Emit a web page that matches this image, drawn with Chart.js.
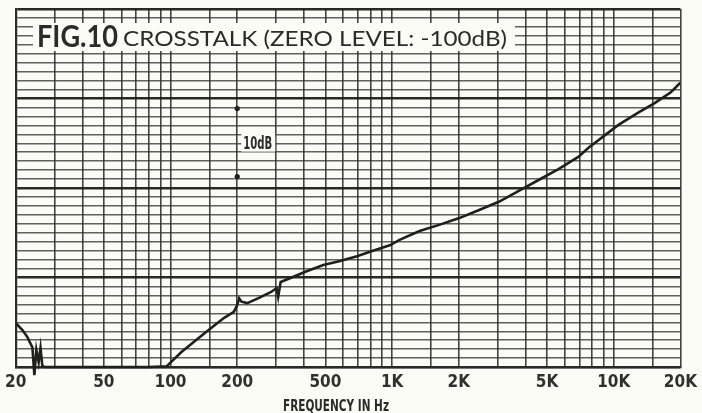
<!DOCTYPE html>
<html>
<head>
<meta charset="utf-8">
<script src="https://cdn.jsdelivr.net/npm/chart.js@4.4.1/dist/chart.umd.min.js"></script>
<style>
  html, body { margin: 0; padding: 0; background: #fcfcf7; }
  #wrap { width: 702px; height: 413px; position: relative; }
</style>
</head>
<body>
<div id="wrap"><canvas id="c" width="702" height="413"></canvas></div>
<script>
// Crosstalk trace: frequency (Hz) and level (dB)
const FREQ_HZ = [
  20, 21.5, 22.6, 23.3, 23.8, 24.3, 24.8, 25.4, 25.9, 26.4, 27.2,
  40, 60, 80, 96, 112, 131, 148, 174, 193, 200, 204, 209, 222, 248,
  283, 301, 306, 314, 348, 406, 489, 583, 694, 819, 976, 1080, 1330,
  1630, 2010, 2470, 3030, 3730, 4580, 5630, 6920, 7670, 9140, 10500,
  12900, 15300, 18100, 20000
];
const CROSSTALK_DB = [
  -93.5, -94.6, -95.6, -96.5, -97.1, -101.2, -97.5, -99.3, -97.2, -99.9, -100,
  -100, -100, -100, -99.9, -97.8, -96.0, -94.6, -92.8, -91.9, -90.9, -89.9, -90.4, -90.6, -89.9,
  -89.0, -88.4, -89.7, -87.5, -86.9, -86.0, -85.0, -84.4, -83.7, -82.9, -82.1, -81.3, -80.0,
  -79.1, -78.1, -76.9, -75.7, -74.1, -72.5, -70.9, -69.1, -67.8, -65.9, -64.4,
  -62.6, -61.2, -59.6, -58.2
];

// 10 dB reference marker
const MARKER_FREQ = 200;
const MARKER_DB = [-72, -62];

// Frequency axis: grid lines and labelled frequencies
const GRID_FREQS = [20, 30, 40, 50, 60, 70, 80, 90, 100, 150, 200, 300, 400, 500, 600, 700, 800, 900,
  1000, 1500, 2000, 3000, 4000, 5000, 6000, 7000, 8000, 9000, 10000, 15000, 20000];
const LABEL_FREQS = [20, 50, 100, 200, 500, 1000, 2000, 5000, 10000, 20000];
const LABEL_TEXT = ['20', '50', '100', '200', '500', '1K', '2K', '5K', '10K', '20K'];

// Level axis: zero level at the bottom edge, ruled paper of 40 rows
const ZERO_LEVEL_DB = -100;
const TOP_LEVEL_DB = -47.35;
const GRID_ROWS = 40;

const INK = '#2b2b28';
const PAPER = '#fcfcf7';

function fitText(ctx, text, x, y, width) {
  const w = ctx.measureText(text).width;
  ctx.save();
  ctx.translate(x, y);
  ctx.scale(width / w, 1);
  ctx.fillText(text, 0, 0);
  ctx.restore();
}

const paperPlugin = {
  id: 'paper',
  beforeDraw(chart) {
    const { ctx, width, height } = chart;
    ctx.save();
    ctx.fillStyle = PAPER;
    ctx.fillRect(0, 0, width, height);
    ctx.restore();
  }
};

const textPlugin = {
  id: 'figureText',
  beforeDatasetsDraw(chart) {
    const ctx = chart.ctx;
    ctx.save();
    // title panel
    ctx.fillStyle = PAPER;
    ctx.fillRect(33, 23, 482, 28);
    ctx.fillStyle = INK;
    ctx.textBaseline = 'alphabetic';
    ctx.textAlign = 'left';
    ctx.font = 'bold 30px Lato, "Open Sans", sans-serif';
    fitText(ctx, 'FIG.10', 37, 47, 81);
    ctx.font = '21px Lato, "Open Sans", sans-serif';
    fitText(ctx, 'CROSSTALK (ZERO LEVEL: -100dB)', 123, 46, 384);
    ctx.restore();
  },
  afterDatasetsDraw(chart) {
    const ctx = chart.ctx;
    const x = chart.scales.x, y = chart.scales.y;
    ctx.save();
    const lx = x.getPixelForValue(MARKER_FREQ) + 6;
    const ly = (y.getPixelForValue(MARKER_DB[0]) + y.getPixelForValue(MARKER_DB[1])) / 2 + 6;
    ctx.fillStyle = PAPER;
    ctx.fillRect(lx - 2, ly - 15, 34, 18);
    ctx.fillStyle = INK;
    ctx.font = 'bold 17px "Liberation Sans Narrow", "DejaVu Sans Condensed", sans-serif';
    ctx.textBaseline = 'alphabetic';
    fitText(ctx, '10dB', lx, ly, 29);
    ctx.font = 'bold 16px "Liberation Sans Narrow", "DejaVu Sans Condensed", sans-serif';
    fitText(ctx, 'FREQUENCY IN Hz', 283, 411, 106);
    ctx.restore();
  }
};

new Chart(document.getElementById('c'), {
  type: 'line',
  data: {
    datasets: [
      {
        data: FREQ_HZ.map((f, i) => ({ x: f, y: CROSSTALK_DB[i] })),
        borderColor: '#1f1f1c',
        borderWidth: 2.6,
        pointRadius: 0,
        tension: 0,
        fill: false,
        clip: { left: 0, top: 0, right: 0, bottom: 10 }
      },
      {
        data: MARKER_DB.map(v => ({ x: MARKER_FREQ, y: v })),
        showLine: false,
        pointRadius: 2.6,
        pointBackgroundColor: '#1f1f1c',
        pointBorderWidth: 0
      }
    ]
  },
  options: {
    responsive: false,
    animation: false,
    devicePixelRatio: 1,
    layout: { padding: { left: 13, right: 19, top: 9, bottom: 0 }, autoPadding: false },
    plugins: { legend: { display: false }, tooltip: { enabled: false } },
    scales: {
      x: {
        type: 'logarithmic',
        min: 20,
        max: 20000,
        afterBuildTicks(scale) {
          scale.ticks = GRID_FREQS.map(v => ({ value: v }));
        },
        afterFit(scale) { scale.height = 46; },
        grid: { color: 'rgba(35,35,32,0.85)', lineWidth: 1.6, drawTicks: false },
        border: { display: true, color: INK, width: 2.2 },
        ticks: {
          autoSkip: false,
          maxRotation: 0,
          minRotation: 0,
          padding: 5,
          color: '#30302c',
          font: { family: '"Liberation Sans Narrow", "DejaVu Sans Condensed", sans-serif', size: 17, weight: 'bold' },
          callback(value) {
            const k = LABEL_FREQS.indexOf(value);
            return k >= 0 ? LABEL_TEXT[k] : '';
          }
        }
      },
      y: {
        type: 'linear',
        min: ZERO_LEVEL_DB,
        max: TOP_LEVEL_DB,
        afterBuildTicks(scale) {
          const step = (TOP_LEVEL_DB - ZERO_LEVEL_DB) / GRID_ROWS;
          const t = [];
          for (let i = 0; i <= GRID_ROWS; i++) t.push({ value: ZERO_LEVEL_DB + i * step });
          scale.ticks = t;
        },
        afterFit(scale) { scale.width = 0; },
        grid: {
          drawTicks: false,
          color: ctx => (ctx.index % 10 === 0 ? 'rgba(30,30,28,0.95)' : 'rgba(45,45,42,0.75)'),
          lineWidth: ctx => (ctx.index % 10 === 0 ? 2.4 : 1.4)
        },
        border: { display: true, color: INK, width: 2.2 },
        ticks: { display: false }
      }
    }
  },
  plugins: [paperPlugin, textPlugin]
});
</script>
</body>
</html>
